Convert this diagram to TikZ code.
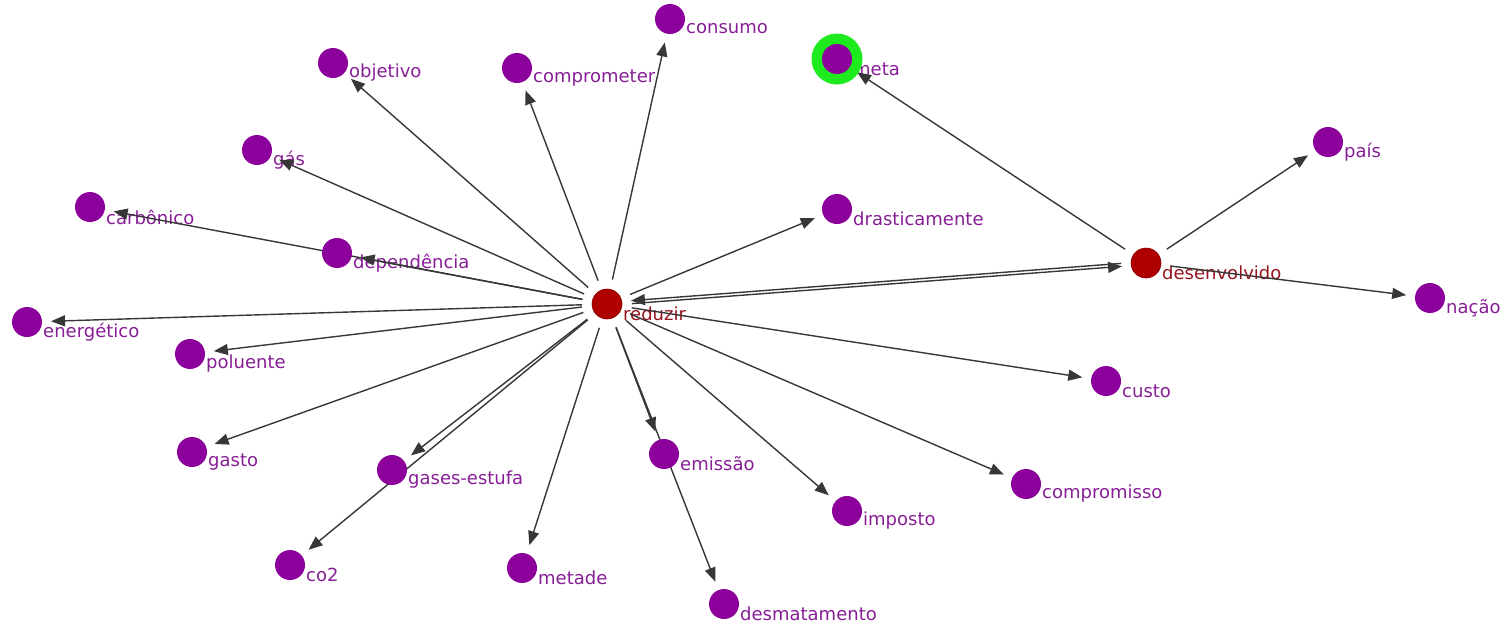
\documentclass[tikz,border=0pt]{standalone}
\usepackage{fontspec}
\setmainfont{DejaVu Sans}
\usetikzlibrary{arrows.meta}
\pgfdeclarelayer{bg}
\pgfdeclarelayer{mid}
\pgfsetlayers{bg,mid,main}
\definecolor{nodepurple}{RGB}{140,0,155}
\definecolor{nodered}{RGB}{175,0,0}
\definecolor{txtpurple}{RGB}{135,30,150}
\definecolor{txtred}{RGB}{150,20,30}
\definecolor{edgegray}{RGB}{55,55,55}
\definecolor{ringgreen}{RGB}{30,235,30}
\begin{document}
\begin{tikzpicture}[x=1pt,y=-1pt,
  pnode/.style={circle,fill=nodepurple,minimum size=30pt,inner sep=0pt},
  rnode/.style={circle,fill=nodered,draw=nodered!80!black,line width=0.6pt,minimum size=30pt,inner sep=0pt},
  plbl/.style={anchor=west,inner sep=0pt,text=txtpurple,font=\fontsize{18}{20}\selectfont},
  rlbl/.style={plbl,text=txtred},
  edge/.style={draw=edgegray,line width=1.4pt,-{Triangle[length=14pt,width=11pt]},shorten <=25pt,shorten >=24pt}]
\useasboundingbox (0,0) rectangle (1503,625);
% ring
\node[circle,fill=ringgreen,minimum size=51pt,inner sep=0pt] (metaring) at (837,59) {};
% nodes
\node[rnode] (reduzir) at (607,304) {};
\node[rnode] (desenvolvido) at (1146,263) {};
\node[pnode] (consumo) at (670,19) {};
\node[pnode] (objetivo) at (333,63) {};
\node[pnode] (comprometer) at (517,68) {};
\node[pnode] (meta) at (837,59) {};
\node[pnode] (gas) at (257,150) {};
\node[pnode] (pais) at (1328,142) {};
\node[pnode] (carbonico) at (90,207) {};
\node[pnode] (drasticamente) at (837,209) {};
\node[pnode] (dependencia) at (337,253) {};
\node[pnode] (nacao) at (1430,298) {};
\node[pnode] (energetico) at (27,322) {};
\node[pnode] (poluente) at (190,354) {};
\node[pnode] (custo) at (1106,381) {};
\node[pnode] (gasto) at (192,452) {};
\node[pnode] (gasesestufa) at (392,470) {};
\node[pnode] (emissao) at (664,454) {};
\node[pnode] (compromisso) at (1026,484) {};
\node[pnode] (imposto) at (847,511) {};
\node[pnode] (co2) at (290,565) {};
\node[pnode] (metade) at (522,568) {};
\node[pnode] (desmatamento) at (724,604) {};
% labels
\begin{pgfonlayer}{bg}
\node[rlbl] (reduzir-t) at ([shift={(16,10)}]reduzir.center) {reduzir};
\node[rlbl] (desenvolvido-t) at ([shift={(16,10)}]desenvolvido.center) {desenvolvido};
\node[plbl] (consumo-t) at ([shift={(16,10)}]consumo.center) {consumo};
\node[plbl] (objetivo-t) at ([shift={(16,10)}]objetivo.center) {objetivo};
\node[plbl] (comprometer-t) at ([shift={(16,10)}]comprometer.center) {comprometer};
\node[plbl] (meta-t) at ([shift={(16,10)}]meta.center) {meta};
\node[plbl] (gas-t) at ([shift={(16,10)}]gas.center) {gás};
\node[plbl] (pais-t) at ([shift={(16,10)}]pais.center) {país};
\node[plbl] (carbonico-t) at ([shift={(16,10)}]carbonico.center) {carbônico};
\node[plbl] (drasticamente-t) at ([shift={(16,10)}]drasticamente.center) {drasticamente};
\node[plbl] (dependencia-t) at ([shift={(16,10)}]dependencia.center) {dependência};
\node[plbl] (nacao-t) at ([shift={(16,10)}]nacao.center) {nação};
\node[plbl] (energetico-t) at ([shift={(16,10)}]energetico.center) {energético};
\node[plbl] (poluente-t) at ([shift={(16,10)}]poluente.center) {poluente};
\node[plbl] (custo-t) at ([shift={(16,10)}]custo.center) {custo};
\node[plbl] (gasto-t) at ([shift={(16,10)}]gasto.center) {gasto};
\node[plbl] (gasesestufa-t) at ([shift={(16,10)}]gasesestufa.center) {gases-estufa};
\node[plbl] (emissao-t) at ([shift={(16,10)}]emissao.center) {emissão};
\node[plbl] (compromisso-t) at ([shift={(16,10)}]compromisso.center) {compromisso};
\node[plbl] (imposto-t) at ([shift={(16,10)}]imposto.center) {imposto};
\node[plbl] (co2-t) at ([shift={(16,10)}]co2.center) {co2};
\node[plbl] (metade-t) at ([shift={(16,10)}]metade.center) {metade};
\node[plbl] (desmatamento-t) at ([shift={(16,10)}]desmatamento.center) {desmatamento};
\end{pgfonlayer}
% edges
\begin{pgfonlayer}{mid}
\foreach \t in {consumo,objetivo,comprometer,gas,dependencia,carbonico,energetico,poluente,gasto,gasesestufa,co2,metade,emissao,desmatamento,imposto,compromisso,custo,drasticamente}
  \draw[edge] (reduzir.center) -- (\t.center);
\draw[edge] ([yshift=-1.5pt]reduzir.center) -- ([yshift=-1.5pt]desenvolvido.center);
\draw[edge] ([yshift=1.5pt]desenvolvido.center) -- ([yshift=1.5pt]reduzir.center);
\draw[edge] (desenvolvido.center) -- (meta.center);
\draw[edge] (desenvolvido.center) -- (pais.center);
\draw[edge] (desenvolvido.center) -- (nacao.center);
\end{pgfonlayer}
\end{tikzpicture}
\end{document}
